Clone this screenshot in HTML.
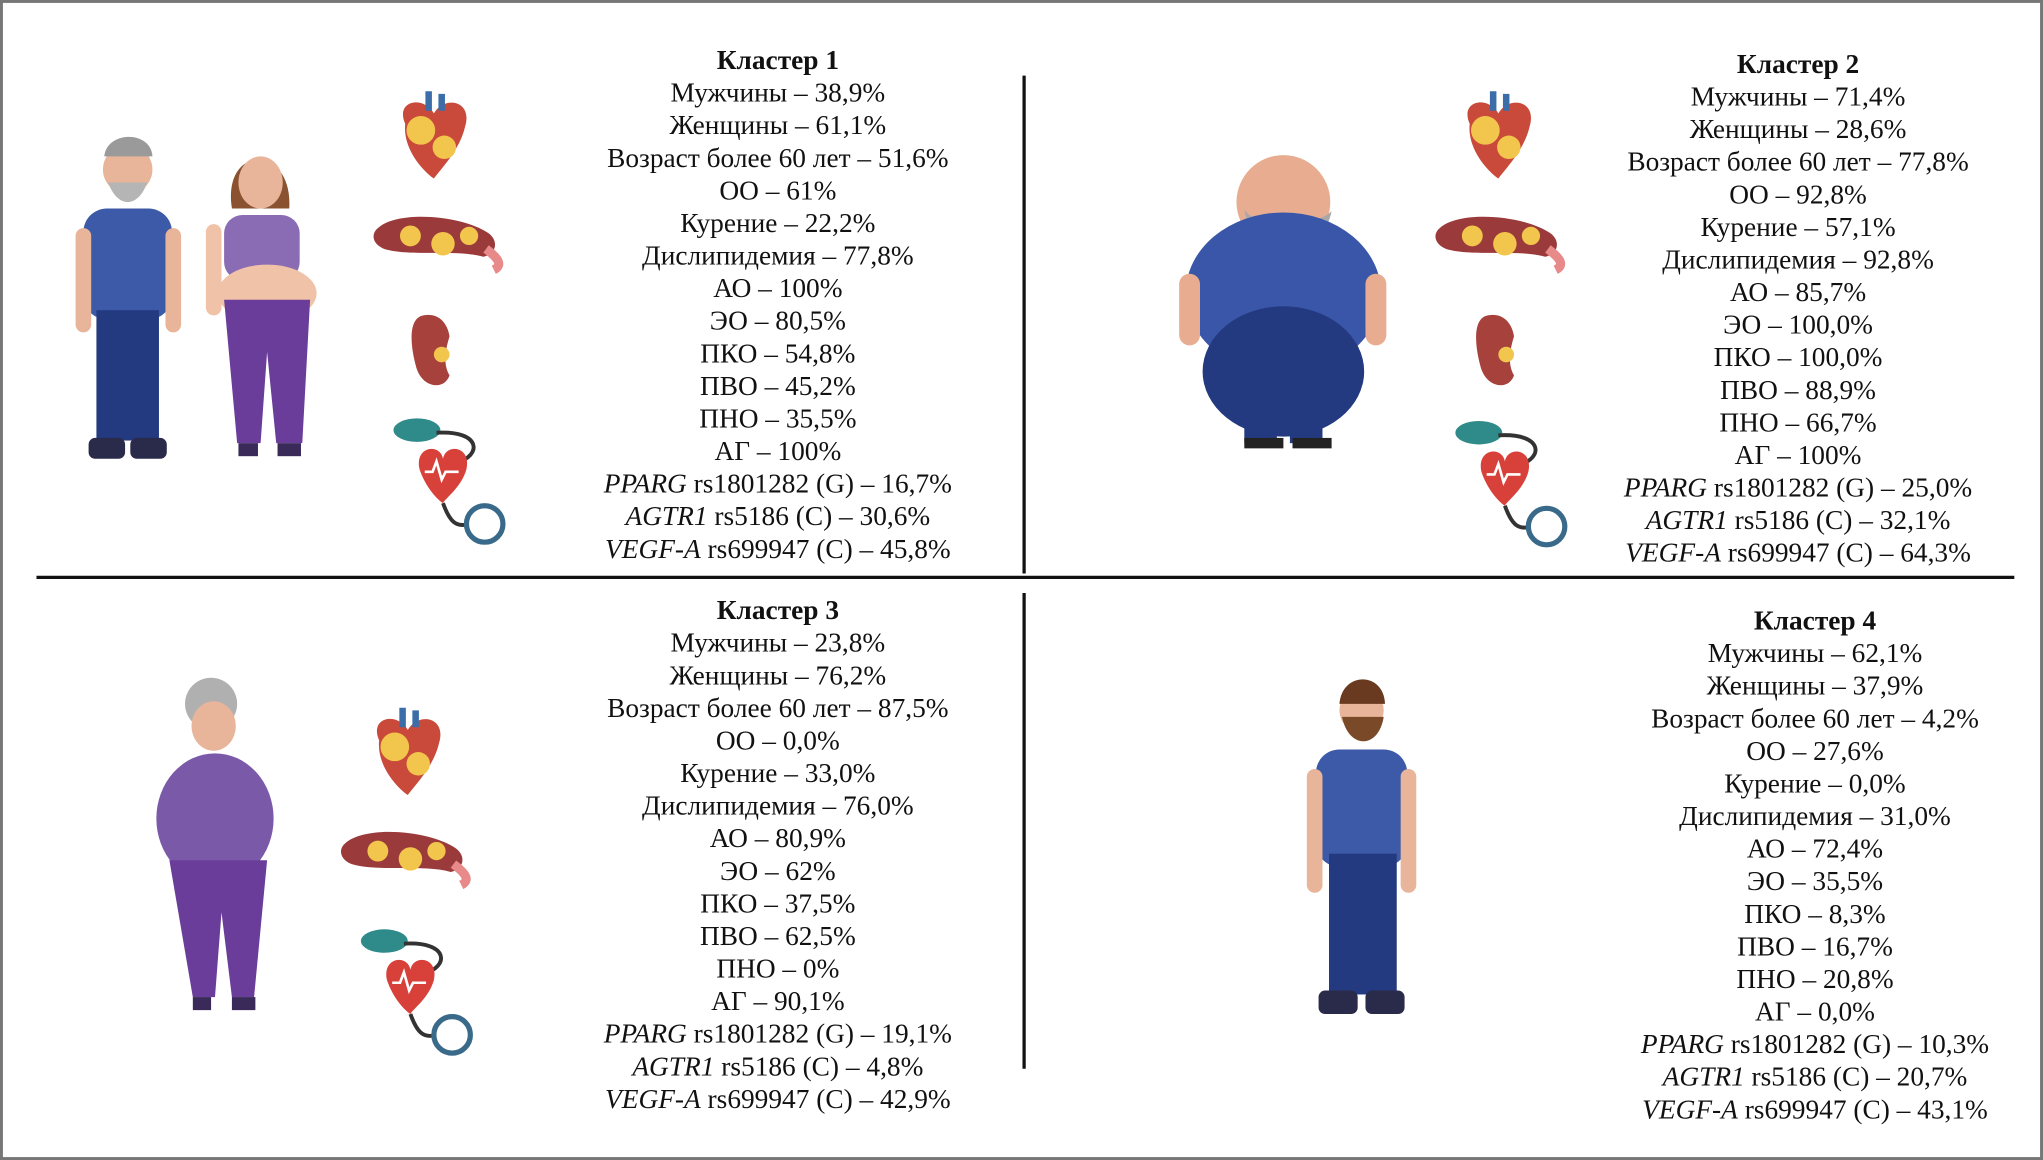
<!DOCTYPE html>
<html><head><meta charset="utf-8"><style>
html,body{margin:0;padding:0;background:#fff;}
svg{display:block;}
text{font-family:"Liberation Serif",serif;font-size:21px;fill:#111;}
.t{font-weight:bold;}
</style></head><body>
<svg width="2043" height="1160" viewBox="0 0 1568 890" preserveAspectRatio="none" xmlns="http://www.w3.org/2000/svg">
<rect x="1" y="1" width="1566" height="888" fill="#fff" stroke="#777" stroke-width="2.5"/>
<line x1="786" y1="58" x2="786" y2="440" stroke="#111" stroke-width="2.5"/>
<line x1="786" y1="455" x2="786" y2="820" stroke="#111" stroke-width="2.5"/>
<line x1="28" y1="443" x2="1546" y2="443" stroke="#111" stroke-width="2.5"/>

<defs>
<g id="heart"><path d="M-22,-10 C-30,-28 -8,-32 0,-18 C8,-32 30,-28 24,-8 C20,10 5,25 0,32 C-10,25 -24,8 -22,-10Z" fill="#c94a3a"/><circle cx="-10" cy="-5" r="11" fill="#f2c64c"/><circle cx="8" cy="8" r="9" fill="#f2c64c"/><path d="M-4,-20 v-15 M6,-20 v-13" stroke="#3b6ea8" stroke-width="5"/></g>
<g id="panc"><path d="M-45,-8 C-30,-22 20,-18 40,-4 C48,2 46,12 36,14 C15,8 -20,14 -40,8 C-50,4 -50,-4 -45,-8Z" fill="#9b3a3a"/><circle cx="-20" cy="-2" r="8" fill="#f2c64c"/><circle cx="5" cy="4" r="9" fill="#f2c64c"/><circle cx="25" cy="-2" r="7" fill="#f2c64c"/><path d="M38,8 C46,14 52,20 44,24" stroke="#e88a8a" stroke-width="7" fill="none"/></g>
<g id="kid"><path d="M-8,-28 C-20,-26 -18,-5 -14,10 C-10,28 8,30 12,18 C6,8 10,-5 12,-12 C10,-24 2,-30 -8,-28Z" fill="#a7413c"/><circle cx="6" cy="2" r="6" fill="#f2c64c"/></g>
<g id="bp"><ellipse cx="-20" cy="-30" rx="18" ry="9" fill="#2f8a8a"/><path d="M-5,-28 C30,-30 30,-10 10,-5" stroke="#333" stroke-width="3" fill="none"/><path d="M-18,0 C-22,-18 -2,-20 0,-8 C2,-20 22,-18 18,0 C14,14 2,22 0,26 C-6,22 -14,12 -18,0Z" fill="#d8403a"/><path d="M-14,2 h6 l3,-8 l4,14 l3,-6 h10" stroke="#fff" stroke-width="2" fill="none"/><path d="M0,26 C5,40 10,45 20,42" stroke="#333" stroke-width="3" fill="none"/><circle cx="32" cy="42" r="14" fill="#fff" stroke="#3a6a8a" stroke-width="4"/></g>
</defs>

<!-- Cluster 1 figures -->
<g>
<circle cx="98" cy="130" r="19" fill="#e8b59a"/><path d="M80,120 C82,100 116,100 117,120 Z" fill="#9a9a9a"/><path d="M83,140 C90,160 106,160 113,140 Z" fill="#b5b5b5"/>
<rect x="64" y="160" width="68" height="85" rx="18" fill="#3d5aa8"/>
<rect x="58" y="175" width="12" height="80" rx="6" fill="#e8b59a"/><rect x="127" y="175" width="12" height="80" rx="6" fill="#e8b59a"/>
<rect x="74" y="238" width="48" height="100" fill="#243a80"/><rect x="68" y="336" width="28" height="16" rx="5" fill="#2a2a4a"/><rect x="100" y="336" width="28" height="16" rx="5" fill="#2a2a4a"/>
<path d="M178,160 C170,110 225,110 222,160 Z" fill="#8a5230"/><ellipse cx="200" cy="140" rx="17" ry="20" fill="#e8b59a"/>
<rect x="172" y="165" width="58" height="50" rx="14" fill="#8a6cb5"/><ellipse cx="205" cy="225" rx="38" ry="22" fill="#f0c2a8"/>
<rect x="158" y="172" width="12" height="70" rx="6" fill="#f0c2a8"/>
<path d="M172,230 L238,230 L232,340 L212,340 L205,270 L200,340 L182,340 Z" fill="#6a3d9a"/>
<rect x="183" y="340" width="15" height="10" fill="#3a2a5a"/><rect x="213" y="340" width="18" height="10" fill="#3a2a5a"/>
</g>
<use href="#heart" x="333" y="105"/><use href="#panc" x="335" y="183"/><use href="#kid" x="333" y="270"/><use href="#bp" x="340" y="360"/>

<!-- Cluster 2 -->
<g>
<circle cx="985" cy="155" r="36" fill="#e8ad90"/><path d="M955,160 C960,200 1015,200 1022,162 C1010,175 960,175 955,160Z" fill="#a8a8a8"/>
<ellipse cx="985" cy="225" rx="75" ry="62" fill="#3a56a8"/>
<rect x="905" y="210" width="16" height="55" rx="8" fill="#e8ad90"/><rect x="1048" y="210" width="16" height="55" rx="8" fill="#e8ad90"/>
<ellipse cx="985" cy="285" rx="62" ry="50" fill="#243a80"/><rect x="955" y="320" width="25" height="20" fill="#243a80"/><rect x="990" y="320" width="25" height="20" fill="#243a80"/>
<rect x="955" y="336" width="30" height="8" fill="#222"/><rect x="992" y="336" width="30" height="8" fill="#222"/>
</g>
<use href="#heart" x="1150" y="105"/><use href="#panc" x="1150" y="183"/><use href="#kid" x="1150" y="270"/><use href="#bp" x="1155" y="362"/>

<!-- Cluster 3 -->
<g>
<circle cx="162" cy="540" r="20" fill="#b0b0b0"/><ellipse cx="164" cy="557" rx="17" ry="19" fill="#e8b59a"/>
<ellipse cx="165" cy="628" rx="45" ry="50" fill="#7a5aa8"/>
<path d="M130,660 L205,660 L195,765 L178,765 L170,700 L165,765 L148,765 Z" fill="#6a3d9a"/>
<rect x="148" y="765" width="14" height="10" fill="#3a2a5a"/><rect x="178" y="765" width="18" height="10" fill="#3a2a5a"/>
</g>
<use href="#heart" x="313" y="578"/><use href="#panc" x="310" y="655"/><use href="#bp" x="315" y="752"/>

<!-- Cluster 4 -->
<g>
<circle cx="1045" cy="545" r="17" fill="#e8b59a"/><path d="M1028,540 C1030,515 1062,515 1063,540 Z" fill="#6a3a20"/><path d="M1030,550 C1035,575 1058,575 1062,550 Z" fill="#7a4a28"/>
<rect x="1010" y="575" width="70" height="90" rx="18" fill="#3d5aa8"/>
<rect x="1003" y="590" width="12" height="95" rx="6" fill="#e8b59a"/><rect x="1075" y="590" width="12" height="95" rx="6" fill="#e8b59a"/>
<rect x="1020" y="655" width="52" height="108" fill="#243a80"/>
<rect x="1012" y="760" width="30" height="18" rx="5" fill="#2a2a4a"/><rect x="1048" y="760" width="30" height="18" rx="5" fill="#2a2a4a"/>
</g>

<!-- Text cluster 1 -->
<g text-anchor="middle" transform="translate(597,0)">
<text class="t" y="53">Кластер 1</text>
<text y="78">Мужчины – 38,9%</text>
<text y="103">Женщины – 61,1%</text>
<text y="128">Возраст более 60 лет – 51,6%</text>
<text y="153">ОО – 61%</text>
<text y="178">Курение – 22,2%</text>
<text y="203">Дислипидемия – 77,8%</text>
<text y="228">АО – 100%</text>
<text y="253">ЭО – 80,5%</text>
<text y="278">ПКО – 54,8%</text>
<text y="303">ПВО – 45,2%</text>
<text y="328">ПНО – 35,5%</text>
<text y="353">АГ – 100%</text>
<text y="378"><tspan font-style="italic">PPARG</tspan> rs1801282 (G) – 16,7%</text>
<text y="403"><tspan font-style="italic">AGTR1</tspan> rs5186 (C) – 30,6%</text>
<text y="428"><tspan font-style="italic">VEGF-A</tspan> rs699947 (C) – 45,8%</text>
</g>
<g text-anchor="middle" transform="translate(1380,3)">
<text class="t" y="53">Кластер 2</text>
<text y="78">Мужчины – 71,4%</text>
<text y="103">Женщины – 28,6%</text>
<text y="128">Возраст более 60 лет – 77,8%</text>
<text y="153">ОО – 92,8%</text>
<text y="178">Курение – 57,1%</text>
<text y="203">Дислипидемия – 92,8%</text>
<text y="228">АО – 85,7%</text>
<text y="253">ЭО – 100,0%</text>
<text y="278">ПКО – 100,0%</text>
<text y="303">ПВО – 88,9%</text>
<text y="328">ПНО – 66,7%</text>
<text y="353">АГ – 100%</text>
<text y="378"><tspan font-style="italic">PPARG</tspan> rs1801282 (G) – 25,0%</text>
<text y="403"><tspan font-style="italic">AGTR1</tspan> rs5186 (C) – 32,1%</text>
<text y="428"><tspan font-style="italic">VEGF-A</tspan> rs699947 (C) – 64,3%</text>
</g>
<g text-anchor="middle" transform="translate(597,422)">
<text class="t" y="53">Кластер 3</text>
<text y="78">Мужчины – 23,8%</text>
<text y="103">Женщины – 76,2%</text>
<text y="128">Возраст более 60 лет – 87,5%</text>
<text y="153">ОО – 0,0%</text>
<text y="178">Курение – 33,0%</text>
<text y="203">Дислипидемия – 76,0%</text>
<text y="228">АО – 80,9%</text>
<text y="253">ЭО – 62%</text>
<text y="278">ПКО – 37,5%</text>
<text y="303">ПВО – 62,5%</text>
<text y="328">ПНО – 0%</text>
<text y="353">АГ – 90,1%</text>
<text y="378"><tspan font-style="italic">PPARG</tspan> rs1801282 (G) – 19,1%</text>
<text y="403"><tspan font-style="italic">AGTR1</tspan> rs5186 (C) – 4,8%</text>
<text y="428"><tspan font-style="italic">VEGF-A</tspan> rs699947 (C) – 42,9%</text>
</g>
<g text-anchor="middle" transform="translate(1393,430)">
<text class="t" y="53">Кластер 4</text>
<text y="78">Мужчины – 62,1%</text>
<text y="103">Женщины – 37,9%</text>
<text y="128">Возраст более 60 лет – 4,2%</text>
<text y="153">ОО – 27,6%</text>
<text y="178">Курение – 0,0%</text>
<text y="203">Дислипидемия – 31,0%</text>
<text y="228">АО – 72,4%</text>
<text y="253">ЭО – 35,5%</text>
<text y="278">ПКО – 8,3%</text>
<text y="303">ПВО – 16,7%</text>
<text y="328">ПНО – 20,8%</text>
<text y="353">АГ – 0,0%</text>
<text y="378"><tspan font-style="italic">PPARG</tspan> rs1801282 (G) – 10,3%</text>
<text y="403"><tspan font-style="italic">AGTR1</tspan> rs5186 (C) – 20,7%</text>
<text y="428"><tspan font-style="italic">VEGF-A</tspan> rs699947 (C) – 43,1%</text>
</g>
</svg>
</body></html>
